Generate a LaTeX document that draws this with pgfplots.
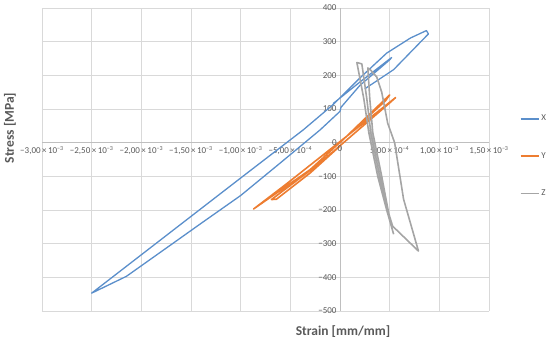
\documentclass[border=0pt]{standalone}
\usepackage{fontspec}
\setmainfont{Carlito}
\usepackage{pgfplots}
\pgfplotsset{compat=1.18}
\definecolor{cX}{HTML}{5B8FCB}
\definecolor{cY}{HTML}{ED7D31}
\definecolor{cZ}{HTML}{A5A5A5}
\definecolor{gridc}{HTML}{D9D9D9}
\definecolor{axc}{HTML}{BFBFBF}
\definecolor{txt}{HTML}{595959}
\newcommand{\sci}[2]{#1\,×\,10\textsuperscript{#2}}
\begin{document}
\begin{tikzpicture}
\useasboundingbox (-42pt,-32pt) rectangle (508pt,311pt);
\begin{axis}[
  scale only axis, width=447pt, height=303pt,
  xmin=-3e-3, xmax=1.5e-3, ymin=-500, ymax=400,
  axis lines=middle, axis line style={-, draw=axc, line width=0.8pt},
  scaled x ticks=false,
  xtick={-3e-3,-2.5e-3,-2e-3,-1.5e-3,-1e-3,-5e-4,0,5e-4,1e-3,1.5e-3},
  xticklabels={{\sci{−3,00}{−3}},{\sci{−2,50}{−3}},{\sci{−2,00}{−3}},{\sci{−1,50}{−3}},
    {\sci{−1,00}{−3}},{\sci{−5,00}{−4}},{0},{\sci{5,00}{−4}},{\sci{1,00}{−3}},{\sci{1,50}{−3}}},
  ytick={-500,-400,-300,-200,-100,0,100,200,300,400},
  yticklabels={−500,−400,−300,−200,−100,0,100,200,300,400},
  major tick length=0pt,
  grid=major, grid style={gridc, line width=0.8pt},
  tick label style={font=\fontsize{9}{10}\selectfont, text=txt},
  every axis plot/.append style={line width=1.3pt, line join=round},
  legend style={draw=none, fill=none, at={(1.062,0.66)}, anchor=north west,
    row sep=26pt, font=\fontsize{9}{10}\selectfont, text=txt},
  legend cell align=left,
  legend image code/.code={\draw[#1, line width=1.5pt] (0pt,0pt) -- (18pt,0pt);},
]
% X
\addplot[cX] coordinates {
 (-0.07e-3,116) (0.20e-3,180) (0.52e-3,253) (0.50e-3,246) (0.20e-3,170)
 (0.01e-3,105) (0.00,93) (-0.20e-3,38) (-0.60e-3,-60) (-1.00e-3,-157)
 (-1.40e-3,-240) (-1.71e-3,-305) (-2.15e-3,-397) (-2.50e-3,-447)
 (-1.00e-3,-105) (-0.37e-3,38) (-0.07e-3,113) (0.20e-3,192) (0.47e-3,266)
 (0.71e-3,311) (0.87e-3,333) (0.89e-3,323) (0.54e-3,217) (0.25e-3,160)
};
% Y
\addplot[cY, line width=1.6pt] coordinates {
 (0,0) (0.50e-3,142) (0.46e-3,125) (-0.30e-3,-80) (-0.87e-3,-197)
 (-0.55e-3,-125) (0.56e-3,134) (0.50e-3,118) (-0.20e-3,-60) (-0.69e-3,-169)
 (-0.64e-3,-168) (-0.30e-3,-90) (0.0,-10)
};
% Z
\addplot[cZ, line width=1.6pt] coordinates {
 (0.54e-3,-272) (0.47e-3,-200) (0.38e-3,-100) (0.29e-3,30) (0.24e-3,130)
 (0.17e-3,238) (0.22e-3,234) (0.27e-3,130) (0.31e-3,30) (0.40e-3,-100)
 (0.49e-3,-210) (0.53e-3,-248) (0.79e-3,-322) (0.64e-3,-168) (0.55e-3,0)
 (0.48e-3,58) (0.42e-3,150) (0.37e-3,195) (0.31e-3,215) (0.28e-3,222)
 (0.30e-3,130) (0.33e-3,30) (0.42e-3,-100) (0.50e-3,-225)
};
\legend{X, Y, Z}
% origin labels, which the centred axes leave out
\node[anchor=east, font=\fontsize{9}{10}\selectfont, text=txt, inner sep=3pt] at (axis cs:0,0) {0};
\node[anchor=north, font=\fontsize{9}{10}\selectfont, text=txt, inner sep=3pt] at (axis cs:0,0) {0};
\end{axis}
\node[font=\bfseries\fontsize{13.5}{15}\selectfont, text=txt] at (301pt,-21pt) {Strain [mm/mm]};
\node[rotate=90, font=\bfseries\fontsize{13.5}{15}\selectfont, text=txt] at (-32pt,183pt) {Stress [MPa]};
\end{tikzpicture}
\end{document}
